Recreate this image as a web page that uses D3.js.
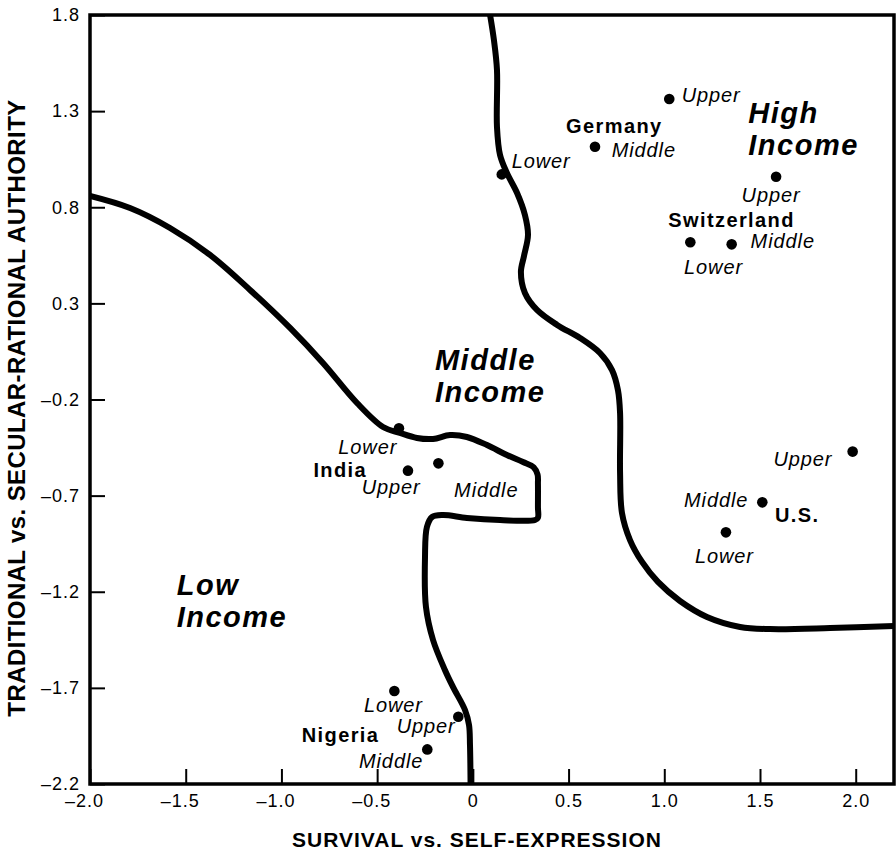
<!DOCTYPE html>
<html>
<head>
<meta charset="utf-8">
<script src="https://cdn.jsdelivr.net/npm/d3@7"></script>
<style>
  html, body { margin: 0; padding: 0; background: #fff; }
  svg { display: block; font-family: "Liberation Sans", Arial, Helvetica, sans-serif; }
</style>
</head>
<body>
<div id="chart"></div>
<script>
// ---------- data ----------
const xTicks = [-2.0, -1.5, -1.0, -0.5, 0, 0.5, 1.0, 1.5, 2.0];
const xTickLabels = ["–2.0", "–1.5", "–1.0", "–0.5", "0", "0.5", "1.0", "1.5", "2.0"];
const yTicks = [-2.2, -1.7, -1.2, -0.7, -0.2, 0.3, 0.8, 1.3, 1.8];
const yTickLabels = ["–2.2", "–1.7", "–1.2", "–0.7", "–0.2", "0.3", "0.8", "1.3", "1.8"];

const countries = ["Germany", "Switzerland", "India", "U.S.", "Nigeria"];
const countryLabelX = [0.487, 1.021, -0.833, 1.578, -0.894];
const countryLabelY = [1.188, 0.699, -0.602, -0.836, -1.980];

const pointCountry = ["Germany", "Germany", "Germany",
  "Switzerland", "Switzerland", "Switzerland",
  "India", "India", "India",
  "U.S.", "U.S.", "U.S.",
  "Nigeria", "Nigeria", "Nigeria"];
const pointLevel = ["Lower", "Middle", "Upper",
  "Lower", "Middle", "Upper",
  "Lower", "Middle", "Upper",
  "Lower", "Middle", "Upper",
  "Lower", "Middle", "Upper"];
const survival = [0.151, 0.638, 1.026,
  1.136, 1.352, 1.584,
  -0.386, -0.180, -0.339,
  1.322, 1.512, 1.984,
  -0.410, -0.238, -0.076];
const traditional = [0.971, 1.115, 1.363,
  0.618, 0.607, 0.959,
  -0.350, -0.532, -0.570,
  -0.891, -0.735, -0.471,
  -1.716, -2.020, -1.850];
// label anchors (data units)
const levelLabelX = [0.203, 0.725, 1.091,
  1.103, 1.451, 1.404,
  -0.703, -0.098, -0.581,
  1.160, 1.103, 1.570,
  -0.569, -0.595, -0.398];
const levelLabelY = [1.003, 1.060, 1.349,
  0.451, 0.586, 0.829,
  -0.483, -0.706, -0.692,
  -1.052, -0.758, -0.546,
  -1.824, -2.118, -1.933];

const regionLine1 = ["Low", "Middle", "High"];
const regionLine2 = ["Income", "Income", "Income"];
const regionX = [-1.547, -0.198, 1.439];
const regionY = [-1.217, -0.047, 1.237];

// boundary between low and middle income zones
const boundaryLow = [
  [-2.000, 0.859], [-1.791, 0.796], [-1.582, 0.692], [-1.373, 0.552],
  [-1.164, 0.370], [-0.955, 0.172], [-0.783, -0.010],
  [-0.605, -0.218], [-0.469, -0.343], [-0.381, -0.374], [-0.292, -0.400],
  [-0.208, -0.405], [-0.119, -0.385], [-0.031, -0.395], [0.074, -0.437],
  [0.178, -0.489], [0.262, -0.525], [0.318, -0.553], [0.338, -0.590],
  [0.340, -0.640], [0.340, -0.760], [0.340, -0.815], [0.325, -0.827],
  [0.142, -0.827], [-0.031, -0.816], [-0.156, -0.801], [-0.213, -0.811],
  [-0.240, -0.863], [-0.250, -1.019], [-0.245, -1.279], [-0.208, -1.451],
  [-0.146, -1.607], [-0.104, -1.695], [-0.041, -1.815], [-0.020, -1.893],
  [-0.015, -1.997], [-0.012, -2.200]
];
// boundary between middle and high income zones
const boundaryHigh = [
  [0.090, 1.800], [0.110, 1.670], [0.126, 1.514], [0.126, 1.217],
  [0.142, 1.072], [0.178, 0.978], [0.231, 0.874], [0.272, 0.760],
  [0.288, 0.656], [0.267, 0.546], [0.251, 0.463], [0.272, 0.354],
  [0.335, 0.266], [0.440, 0.188], [0.560, 0.120], [0.664, 0.042],
  [0.727, -0.047], [0.758, -0.151], [0.769, -0.270], [0.769, -0.582],
  [0.779, -0.790], [0.821, -0.931], [0.884, -1.045], [0.967, -1.149],
  [1.082, -1.248], [1.223, -1.331], [1.396, -1.383], [1.552, -1.394],
  [1.866, -1.389], [2.200, -1.378]
];

// ---------- layout ----------
const W = 896, H = 851;
const margin = { left: 90, right: 2, top: 15, bottom: 67 };
const pw = W - margin.left - margin.right;
const ph = H - margin.top - margin.bottom;

const svg = d3.select("#chart").append("svg").attr("width", W).attr("height", H);
const g = svg.append("g").attr("transform", `translate(${margin.left},${margin.top})`);

const x = d3.scaleLinear().domain([-2.0, 2.2]).range([0, pw]);
const y = d3.scaleLinear().domain([-2.2, 1.8]).range([ph, 0]);

g.append("clipPath").attr("id", "plotClip")
  .append("rect").attr("x", 0).attr("y", 0).attr("width", pw).attr("height", ph);

// boundaries
const line = d3.line().x(d => x(d[0])).y(d => y(d[1])).curve(d3.curveCatmullRom.alpha(0.5));
const curves = g.append("g").attr("clip-path", "url(#plotClip)");
[boundaryLow, boundaryHigh].forEach(b => {
  curves.append("path").attr("d", line(b))
    .attr("fill", "none").attr("stroke", "#000").attr("stroke-width", 6)
    .attr("stroke-linejoin", "round").attr("stroke-linecap", "butt");
});

// axes
const xAxis = d3.axisBottom(x).tickValues(xTicks)
  .tickFormat((d, i) => xTickLabels[i]).tickSizeInner(-15).tickSizeOuter(0).tickPadding(10);
const gx = g.append("g").attr("transform", `translate(0,${ph})`).call(xAxis);
gx.select(".domain").remove();
gx.selectAll("line").attr("stroke", "#000").attr("stroke-width", 2);
gx.selectAll("text").attr("fill", "#000").style("font-size", "18px").style("letter-spacing", "1px")
  .attr("dx", (d, i) => xTickLabels[i].startsWith("–") ? "-0.33em" : "0");

const yAxis = d3.axisLeft(y).tickValues(yTicks)
  .tickFormat((d, i) => yTickLabels[i]).tickSizeInner(-15).tickSizeOuter(0).tickPadding(10);
const gy = g.append("g").call(yAxis);
gy.select(".domain").remove();
gy.selectAll("line").attr("stroke", "#000").attr("stroke-width", 2);
gy.selectAll("text").attr("fill", "#000").style("font-size", "18px").style("letter-spacing", "1px");

// frame
g.append("rect").attr("x", 0).attr("y", 0).attr("width", pw).attr("height", ph)
  .attr("fill", "none").attr("stroke", "#000").attr("stroke-width", 3.5);

// points
const idx = d3.range(survival.length);
g.append("g").selectAll("circle").data(idx).join("circle")
  .attr("cx", i => x(survival[i])).attr("cy", i => y(traditional[i]))
  .attr("r", 5.3).attr("fill", "#000");

// level labels
g.append("g").selectAll("text").data(idx).join("text")
  .attr("x", i => x(levelLabelX[i])).attr("y", i => y(levelLabelY[i]))
  .style("font-size", "20px").style("font-style", "italic").style("letter-spacing", "0.9px")
  .attr("fill", "#000").text(i => pointLevel[i]);

// country labels
g.append("g").selectAll("text").data(countries).join("text")
  .attr("x", (d, i) => x(countryLabelX[i])).attr("y", (d, i) => y(countryLabelY[i]))
  .style("font-size", "20px").style("font-weight", "bold").style("letter-spacing", "1.4px")
  .attr("fill", "#000").text(d => d);

// region labels
const rl = g.append("g").selectAll("text").data(regionLine1).join("text")
  .attr("x", (d, i) => x(regionX[i])).attr("y", (d, i) => y(regionY[i]))
  .style("font-size", "29px").style("font-weight", "bold").style("font-style", "italic")
  .style("letter-spacing", "1.5px").attr("fill", "#000");
rl.append("tspan").text(d => d);
rl.append("tspan").attr("x", (d, i) => x(regionX[i])).attr("dy", "1.1em").text((d, i) => regionLine2[i]);

// axis titles
svg.append("text").attr("x", 477).attr("y", 847)
  .attr("text-anchor", "middle").style("font-size", "21px").style("font-weight", "bold")
  .style("letter-spacing", "1px").attr("fill", "#000")
  .text("SURVIVAL vs. SELF-EXPRESSION");
svg.append("text").attr("transform", "translate(25,408) rotate(-90)")
  .attr("text-anchor", "middle").style("font-size", "24px").style("font-weight", "bold")
  .style("letter-spacing", "0.4px").attr("fill", "#000")
  .text("TRADITIONAL vs. SECULAR-RATIONAL AUTHORITY");
</script>
</body>
</html>
